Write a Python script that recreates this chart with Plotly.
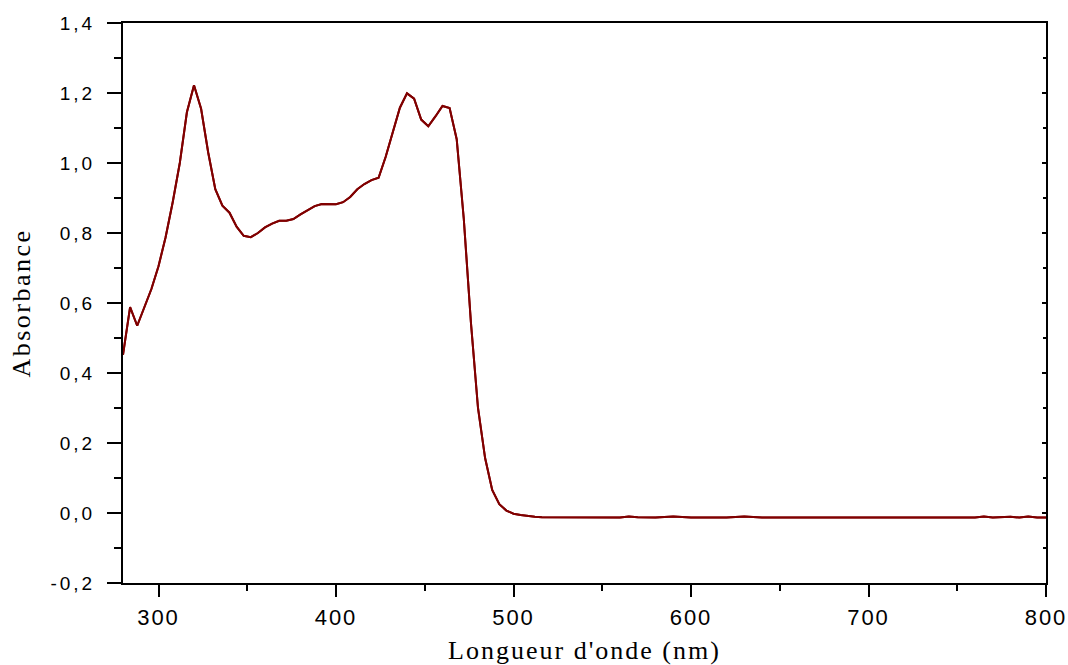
import plotly.graph_objects as go

# Absorption spectrum (wavelength in nm, absorbance)
wavelength_nm = [
    280, 284, 288, 292, 296, 300, 304, 308, 312, 316, 320, 324, 328, 332, 336,
    340, 344, 348, 352, 356, 360, 364, 368, 372, 376, 380, 384, 388, 392, 396,
    400, 404, 408, 412, 416, 420, 424, 428, 432, 436, 440, 444, 448, 452, 456,
    460, 464, 468, 472, 476, 480, 484, 488, 492, 496, 500, 504, 508, 512, 516,
    520, 530, 540, 550, 560, 565, 570, 580, 590, 600, 610, 620, 630, 640, 650,
    660, 670, 680, 690, 700, 710, 720, 730, 740, 750, 760, 765, 770, 780, 785,
    790, 795, 800,
]
absorbance = [
    0.452, 0.588, 0.535, 0.586, 0.640, 0.705, 0.788, 0.888, 1.000, 1.145,
    1.222, 1.155, 1.030, 0.925, 0.878, 0.858, 0.818, 0.792, 0.788, 0.800,
    0.816, 0.827, 0.835, 0.835, 0.840, 0.853, 0.865, 0.877, 0.883, 0.883,
    0.882, 0.888, 0.903, 0.925, 0.940, 0.951, 0.958, 1.018, 1.092, 1.158,
    1.199, 1.184, 1.124, 1.105, 1.133, 1.163, 1.157, 1.068, 0.840, 0.545,
    0.300, 0.157, 0.066, 0.025, 0.007, -0.002, -0.006, -0.009, -0.011, -0.012,
    -0.012, -0.012, -0.013, -0.013, -0.013, -0.010, -0.012, -0.013, -0.010, -0.013,
    -0.013, -0.013, -0.010, -0.013, -0.013, -0.013, -0.013, -0.013, -0.013, -0.013,
    -0.013, -0.013, -0.013, -0.013, -0.013, -0.013, -0.010, -0.013, -0.011, -0.013,
    -0.010, -0.013, -0.013,
]

x_tickvals = [300, 400, 500, 600, 700, 800]
x_ticktext = ["300", "400", "500", "600", "700", "800"]
y_tickvals = [-0.2, 0.0, 0.2, 0.4, 0.6, 0.8, 1.0, 1.2, 1.4]
y_ticktext = ["-0,2", "0,0", "0,2", "0,4", "0,6", "0,8", "1,0", "1,2", "1,4"]

X_RANGE = [280, 800]
Y_RANGE = [-0.2, 1.4]
X_MINOR = [350, 450, 550, 650, 750]
Y_MINOR = [-0.1, 0.1, 0.3, 0.5, 0.7, 0.9, 1.1, 1.3]

SANS = "Liberation Sans, Arial, sans-serif"
SERIF = "Liberation Serif, Times New Roman, serif"


def spaced(s, px):
    return f'<span style="letter-spacing:{px}px">{s}</span>'


fig = go.Figure()
fig.add_trace(go.Scatter(
    x=wavelength_nm, y=absorbance, mode="lines",
    line=dict(color="#800000", width=2),
    showlegend=False, hoverinfo="x+y",
))
# same spectrum on the mirrored right axis (keeps that axis drawn)
fig.add_trace(go.Scatter(
    x=wavelength_nm, y=absorbance, mode="lines", yaxis="y2",
    line=dict(color="#800000", width=2),
    showlegend=False, hoverinfo="skip",
))

fig.update_layout(
    width=1068, height=665,
    margin=dict(l=123, r=22, t=23, b=82),
    paper_bgcolor="white", plot_bgcolor="white",
    xaxis=dict(
        range=X_RANGE, showgrid=False, zeroline=False, automargin=False,
        showline=True, linecolor="black", linewidth=2, mirror=True,
        ticks="outside", ticklen=12, tickwidth=2, tickcolor="black",
        tickvals=x_tickvals, ticktext=[spaced(t, 2) for t in x_ticktext],
        tickfont=dict(family=SANS, size=22, color="black"),
        ticklabelstandoff=2,
        minor=dict(tickvals=X_MINOR, ticks="outside",
                   ticklen=6, tickwidth=2, tickcolor="black"),
        title=dict(text=spaced("Longueur d'onde (nm)", 2),
                   font=dict(family=SERIF, size=26, color="black"),
                   standoff=18),
    ),
    yaxis=dict(
        range=Y_RANGE, showgrid=False, zeroline=False, automargin=False,
        showline=True, linecolor="black", linewidth=2, mirror=True,
        ticks="outside", ticklen=14, tickwidth=2, tickcolor="black",
        tickvals=y_tickvals, ticktext=[spaced(t, 3) for t in y_ticktext],
        tickfont=dict(family=SANS, size=19, color="black"),
        ticklabelstandoff=8,
        minor=dict(tickvals=Y_MINOR, ticks="outside",
                   ticklen=7, tickwidth=2, tickcolor="black"),
        title=dict(text=spaced("Absorbance", 2.5),
                   font=dict(family=SERIF, size=26, color="black"),
                   standoff=12),
    ),
    yaxis2=dict(
        range=Y_RANGE, overlaying="y", side="right", anchor="x",
        showgrid=False, zeroline=False, showline=False, automargin=False,
        ticks="inside", ticklen=4, tickwidth=2, tickcolor="black",
        tickvals=y_tickvals, showticklabels=False,
        minor=dict(tickvals=Y_MINOR, ticks="inside",
                   ticklen=3, tickwidth=2, tickcolor="black"),
    ),
)

fig.write_html("out.html")
